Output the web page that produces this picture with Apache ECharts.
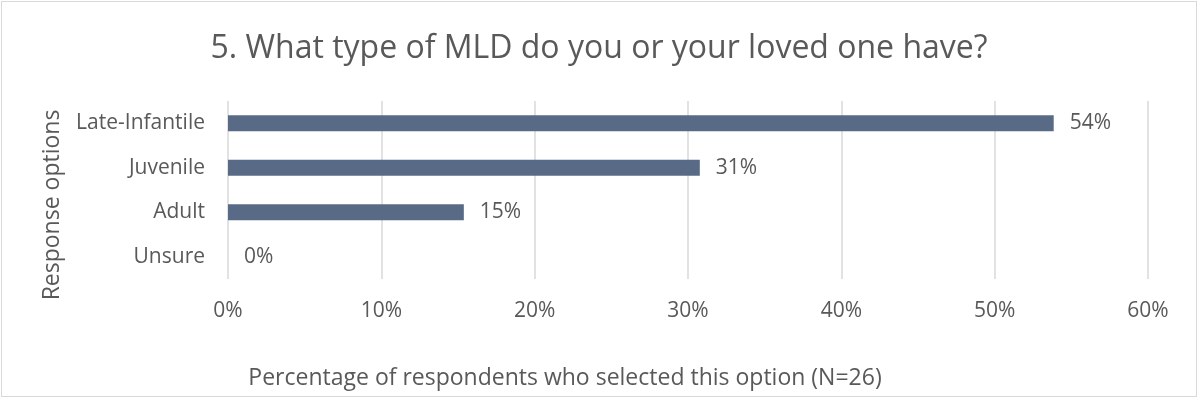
<!DOCTYPE html>
<html>
<head>
<meta charset="utf-8">
<script src="https://cdn.jsdelivr.net/npm/echarts@6/dist/echarts.min.js"></script>
<style>
html,body{margin:0;padding:0;background:#fff;}
#wrap{position:absolute;left:0;top:0;width:1198px;height:400px;}
#frame{position:absolute;left:1px;top:1px;width:1194px;height:394px;border:1px solid #d9d9d9;pointer-events:none;}
#chart{position:absolute;left:0;top:0;width:1198px;height:400px;}
</style>
</head>
<body>
<div id="wrap"><div id="chart"></div><div id="frame"></div></div>
<script>
const categories = ['Late-Infantile', 'Juvenile', 'Adult', 'Unsure'];
const percentValues = [53.85, 30.77, 15.38, 0];
const xTicks = [0, 10, 20, 30, 40, 50, 60];
const titleText = '5. What type of MLD do you or your loved one have?';
const yAxisTitle = 'Response options';
const xAxisTitle = 'Percentage of respondents who selected this option (N=26)';

const FONT = '"Open Sans", "Noto Sans", sans-serif';
const TXT = '#595959';
const chart = echarts.init(document.getElementById('chart'));
chart.setOption({
  animation: false,
  backgroundColor: '#ffffff',
  title: {
    text: titleText,
    left: 'center',
    top: 28,
    textStyle: {fontFamily: FONT, fontSize: 32, fontWeight: 'normal', color: TXT}
  },
  grid: {left: 228, right: 50, top: 101, bottom: 121, containLabel: false},
  xAxis: {
    type: 'value',
    min: xTicks[0],
    max: xTicks[xTicks.length - 1],
    interval: 10,
    axisLine: {show: false},
    axisTick: {show: false},
    splitLine: {show: true, lineStyle: {color: '#d9d9d9', width: 1.5}},
    axisLabel: {
      formatter: v => v + '%',
      fontFamily: FONT, fontSize: 21, color: TXT, margin: 22
    }
  },
  yAxis: {
    type: 'category',
    data: categories,
    inverse: true,
    axisLine: {show: false},
    axisTick: {show: false},
    axisLabel: {fontFamily: FONT, fontSize: 21, color: TXT, margin: 23}
  },
  series: [{
    type: 'bar',
    data: percentValues,
    barWidth: 16,
    itemStyle: {color: '#586a86', borderWidth: 0},
    label: {
      show: true,
      position: 'right',
      distance: 16,
      formatter: p => Math.round(p.value) + '%',
      fontFamily: FONT, fontSize: 21, color: TXT
    }
  }],
  graphic: [
    {
      type: 'text',
      x: 52, y: 205,
      rotation: Math.PI / 2,
      style: {text: yAxisTitle, font: '23px ' + FONT, fill: TXT, textAlign: 'center', textVerticalAlign: 'middle'}
    },
    {
      type: 'text',
      x: 565, y: 378,
      style: {text: xAxisTitle, font: '23px ' + FONT, fill: TXT, textAlign: 'center', textVerticalAlign: 'middle'}
    }
  ]
});
</script>
</body>
</html>
